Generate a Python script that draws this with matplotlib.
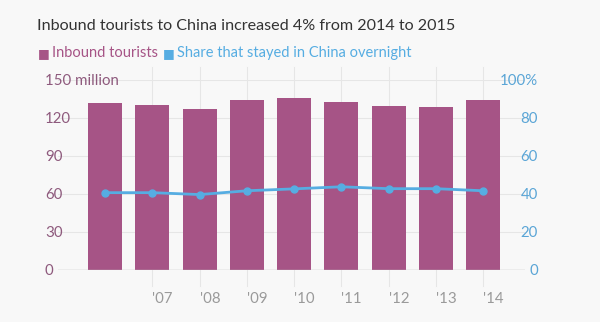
import matplotlib
matplotlib.use("Agg")
import matplotlib.pyplot as plt
import numpy as np

plt.rcParams['font.family'] = ['Lato', 'DejaVu Sans']

# data
tourists = [131.9, 130.0, 126.8, 133.9, 135.4, 132.4, 129.1, 129.0, 133.9]   # million
overnight_share = [40.7, 40.7, 39.7, 41.7, 42.7, 43.8, 42.8, 42.8, 41.7]     # percent
tick_labels = ["'07", "'08", "'09", "'10", "'11", "'12", "'13", "'14"]
left_ticks = [0, 30, 60, 90, 120, 150]
left_labels = ['0', '30', '60', '90', '120', '150 million']
right_ticks = [0, 20, 40, 60, 80, 100]
right_labels = ['0', '20', '40', '60', '80', '100%']

BG = '#f8f8f8'
PURPLE = '#a65486'
BLUE = '#56ade2'
GRID = '#e6e6e6'

fig = plt.figure(figsize=(6, 3.22), dpi=100, facecolor=BG)
ax = fig.add_axes([0.0967, 0.1615, 0.7783, 0.5901])
ax.set_facecolor(BG)

x = np.arange(len(tourists))
tick_x = x[1:]

for xv in tick_x:
    ax.axvline(xv, ymin=-0.085, ymax=1.07, color=GRID, lw=0.8, zorder=0, clip_on=False)
for yv in left_ticks[1:]:
    ax.axhline(yv, color=GRID, lw=0.8, zorder=0)

ax.bar(x, tourists, width=0.72, color=PURPLE, zorder=2)
ax.set_xlim(-1.0, 8.89)
ax.set_ylim(0, 150)

ax2 = ax.twinx()
ax2.plot(x, overnight_share, color=BLUE, lw=2, marker='o', ms=5, zorder=3)
ax2.set_ylim(0, 100)

for a in (ax, ax2):
    for s in a.spines.values():
        s.set_visible(False)
ax.axhline(0, color='#bdbdbd', lw=1, zorder=4)

ax.set_yticks(left_ticks)
ax.set_yticklabels(left_labels)
ax.tick_params(axis='y', length=0, pad=9.4, labelsize=10.8, labelcolor='#8e5a7d')
for lbl in ax.get_yticklabels():
    lbl.set_ha('left')

ax2.set_yticks(right_ticks)
ax2.set_yticklabels(right_labels)
ax2.tick_params(axis='y', length=0, pad=9.4, labelsize=10.8, labelcolor='#5aa5d6')
for lbl in ax2.get_yticklabels():
    lbl.set_ha('right')

ax.set_xticks(tick_x)
ax.set_xticklabels(tick_labels)
ax.tick_params(axis='x', length=0, pad=16, labelsize=10.8, labelcolor='#9a9a9a')
for lbl in ax.get_xticklabels():
    lbl.set_ha('left')

fig.text(0.062, 0.918, 'Inbound tourists to China increased 4% from 2014 to 2015',
         fontsize=11.6, color='#333333', va='center')
fig.text(0.063, 0.835, '■', family='DejaVu Sans', fontsize=9, color=PURPLE, va='center')
fig.text(0.087, 0.835, 'Inbound tourists', fontsize=10.5, color=PURPLE, va='center')
fig.text(0.272, 0.835, '■', family='DejaVu Sans', fontsize=9, color=BLUE, va='center')
fig.text(0.295, 0.835, 'Share that stayed in China overnight', fontsize=10.5,
         color=BLUE, va='center')

fig.savefig('out.png', dpi=100, facecolor=BG)
